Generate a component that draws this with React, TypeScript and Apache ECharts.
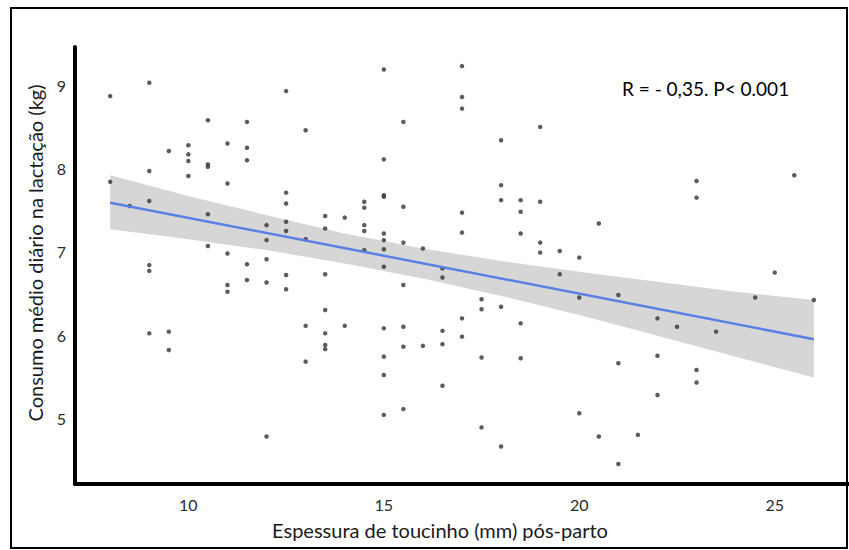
import React, { useEffect, useRef } from "react";
import * as echarts from "echarts";

// Scatter points: backfat thickness (mm) and mean daily feed intake (kg)
const xValues = [
  8, 9, 12.5, 10.5, 11.5, 13, 9.5, 10, 10, 10, 11, 11.5, 11.5, 10.5, 10.5, 9, 8, 10, 11, 12.5,
  12.5, 13.5, 13.5, 9, 8.5, 10.5, 12, 12.5, 12.5, 12, 13, 10.5, 11, 12,
  11.5, 9, 9, 12.5, 13.5, 11, 11, 11.5, 12, 12.5, 13.5, 13, 13.5, 13.5, 13.5, 13, 9, 9.5, 9.5, 12,
  15, 17, 17, 17, 15.5, 19, 18, 15, 15, 15, 18, 14.5, 14.5, 14, 15.5, 17, 18, 18.5, 18.5, 19,
  14.5, 14.5, 15, 15, 14.5, 15, 15.5, 16, 17, 18.5, 19, 19, 19.5,
  15, 16.5, 16.5, 15.5, 19.5, 17.5, 17.5, 18, 17, 14, 15, 15.5, 16.5, 18.5, 17, 15.5, 16, 16.5,
  15, 17.5, 18.5, 15, 16.5, 15.5, 15, 17.5, 18,
  25.5, 23, 23, 20.5, 20, 25, 20, 21, 24.5, 26, 22, 22.5, 23.5, 22, 21, 23, 23, 22, 20, 20.5,
  21.5, 21,
];
const yValues = [
  8.87, 9.03, 8.93, 8.58, 8.56, 8.46, 8.21, 8.28, 8.17, 8.09, 8.3, 8.25, 8.1, 8.05, 8.02, 7.97,
  7.84, 7.91, 7.82, 7.71, 7.58, 7.43, 7.28, 7.61, 7.55, 7.45, 7.32, 7.36, 7.25, 7.14, 7.15, 7.07,
  6.98, 6.91,
  6.85, 6.84, 6.77, 6.72, 6.73, 6.6, 6.52, 6.66, 6.63, 6.55, 6.3, 6.11, 6.02, 5.88, 5.83, 5.68,
  6.02, 6.04, 5.82, 4.78,
  9.19, 9.23, 8.86, 8.72, 8.56, 8.5, 8.34, 8.11, 7.68, 7.66, 7.8, 7.6, 7.53, 7.41, 7.54, 7.47,
  7.62, 7.62, 7.48, 7.6,
  7.32, 7.25, 7.22, 7.14, 7.02, 7.03, 7.11, 7.04, 7.23, 7.22, 7.11, 6.99, 7.01,
  6.82, 6.8, 6.69, 6.6, 6.73, 6.43, 6.31, 6.34, 6.2, 6.11, 6.08, 6.1, 6.05, 6.14, 5.98, 5.86,
  5.87, 5.89,
  5.74, 5.73, 5.72, 5.52, 5.39, 5.11, 5.04, 4.89, 4.66,
  7.92, 7.85, 7.65, 7.34, 6.93, 6.75, 6.45, 6.48, 6.45, 6.42, 6.2, 6.1, 6.04, 5.75, 5.66, 5.58,
  5.43, 5.28, 5.06, 4.78, 4.8, 4.45,
];

// Fitted regression line
const fitX = [8, 26];
const fitY = [7.59, 5.95];

// Confidence band
const bandX = [8, 10, 12, 14, 16, 18, 20, 22, 24, 26];
const bandUpper = [7.92, 7.67, 7.44, 7.22, 7.04, 6.89, 6.76, 6.64, 6.52, 6.42];
const bandLower = [7.27, 7.15, 7.02, 6.86, 6.68, 6.47, 6.24, 5.99, 5.74, 5.49];

// Tick labels
const xTicks = [10, 15, 20, 25];
const yTicks = [5, 6, 7, 8, 9];

const xTitle = "Espessura de toucinho (mm) pós-parto";
const yTitle = "Consumo médio diário na lactação (kg)";
const annotation = "R = - 0,35. P< 0.001";

const FONT = "Lato, 'Open Sans', sans-serif";

export default function App() {
  const ref = useRef<HTMLDivElement>(null);

  useEffect(() => {
    document.body.style.margin = "0";
    if (!ref.current) return;
    const chart = echarts.init(ref.current, undefined, { renderer: "svg" });

    const points = xValues.map((x, i) => [x, yValues[i]]);
    const fitData = fitX.map((x, i) => [x, fitY[i]]);

    chart.setOption({
      animation: false,
      backgroundColor: "#ffffff",
      grid: { left: 75, top: 47, width: 802, height: 437, containLabel: false },
      xAxis: {
        type: "value",
        min: 7.1,
        max: 26.9,
        axisLine: { show: true, onZero: false, lineStyle: { color: "#000", width: 4 } },
        axisTick: { show: false },
        splitLine: { show: false },
        axisLabel: {
          customValues: xTicks,
          color: "#2b2b2b",
          fontSize: 16,
          fontFamily: FONT,
          margin: 12,
        },
      },
      yAxis: {
        type: "value",
        min: 4.21,
        max: 9.46,
        axisLine: { show: true, onZero: false, lineStyle: { color: "#000", width: 4 } },
        axisTick: { show: false },
        splitLine: { show: false },
        axisLabel: {
          customValues: yTicks,
          color: "#2b2b2b",
          fontSize: 16,
          fontFamily: FONT,
          margin: 9,
        },
      },
      series: [
        {
          type: "custom",
          silent: true,
          z: 1,
          data: [[bandX[0], bandUpper[0]]],
          renderItem: (_params: any, api: any) => {
            const pts: number[][] = [];
            for (let i = 0; i < bandX.length; i++) pts.push(api.coord([bandX[i], bandUpper[i]]));
            for (let i = bandX.length - 1; i >= 0; i--) pts.push(api.coord([bandX[i], bandLower[i]]));
            return {
              type: "polygon",
              shape: { points: pts },
              style: { fill: "#d6d6d6" },
            };
          },
        },
        {
          type: "scatter",
          z: 3,
          data: points,
          symbolSize: 4.5,
          itemStyle: { color: "#333333" },
        },
        {
          type: "line",
          z: 4,
          data: fitData,
          showSymbol: false,
          lineStyle: { color: "#5b80e4", width: 2.5 },
        },
      ],
      graphic: [
        {
          type: "rect",
          shape: { x: 11, y: 8, width: 836, height: 540 },
          style: { fill: "none", stroke: "#000", lineWidth: 2 },
          z: 10,
        },
        {
          type: "text",
          x: 35,
          y: 253,
          rotation: Math.PI / 2,
          style: {
            text: yTitle,
            fontSize: 20,
            fontFamily: FONT,
            fill: "#1a1a1a",
            align: "center",
            verticalAlign: "middle",
          },
        },
        {
          type: "text",
          x: 440,
          y: 530,
          style: {
            text: xTitle,
            fontSize: 20,
            fontFamily: FONT,
            fill: "#1a1a1a",
            align: "center",
            verticalAlign: "middle",
          },
        },
        {
          type: "text",
          x: 622,
          y: 88,
          style: {
            text: annotation,
            fontSize: 19,
            fontFamily: FONT,
            fill: "#000",
            align: "left",
            verticalAlign: "middle",
          },
        },
      ],
    });

    return () => chart.dispose();
  }, []);

  return <div ref={ref} style={{ width: 849, height: 550 }} />;
}
